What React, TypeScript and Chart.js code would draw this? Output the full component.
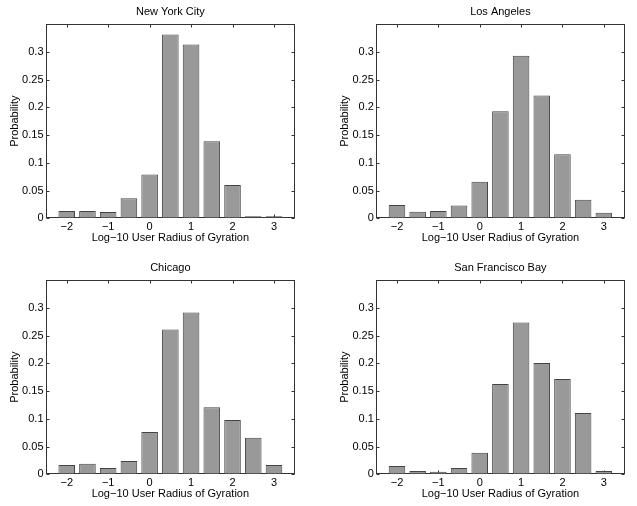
import React, { useEffect, useRef } from 'react';
import { Chart, registerables } from 'chart.js';

Chart.register(...registerables);

// ---- data ----
const binCenters = [-2, -1.5, -1, -0.5, 0, 0.5, 1, 1.5, 2, 2.5, 3];
const xTickValues = [-2, -1, 0, 1, 2, 3];
const yTickValues = [0, 0.05, 0.1, 0.15, 0.2, 0.25, 0.3];
const nycValues = [0.013, 0.013, 0.0114, 0.036, 0.079, 0.331, 0.313, 0.139, 0.06, 0.003, 0.003];
const laValues = [0.024, 0.012, 0.013, 0.023, 0.066, 0.193, 0.293, 0.221, 0.1156, 0.0335, 0.01];
const chicagoValues = [0.0168, 0.019, 0.0114, 0.024, 0.076, 0.261, 0.2916, 0.121, 0.098, 0.066, 0.0168];
const sfValues = [0.015, 0.006, 0.0048, 0.0114, 0.039, 0.1626, 0.2736, 0.2004, 0.1716, 0.1104, 0.006];
const panelTitles = ['New York City', 'Los Angeles', 'Chicago', 'San Francisco Bay'];
const xLabel = 'Log\u221210 User Radius of Gyration';
const yLabel = 'Probability';
const xMin = -2.5;
const xMax = 3.5;
const yMin = 0;
const yMax = 0.35;

const FAMILY = '"Liberation Sans", Arial, Helvetica, sans-serif';
const font = { family: FAMILY, size: 11, weight: 'normal' as const };

const fmtX = (v: number) => (v < 0 ? '\u2212' + Math.abs(v) : String(v));
const fmtY = (v: number) => String(Math.round(v * 100) / 100);

const boxPlugin = {
  id: 'matlabBox',
  beforeDatasetsDraw(chart: any) {
    const { ctx, chartArea, scales } = chart;
    const L = Math.round(chartArea.left) + 0.5;
    const R = Math.round(chartArea.right) - 0.5;
    const T = Math.round(chartArea.top) + 0.5;
    const B = Math.round(chartArea.bottom) - 0.5;
    ctx.save();
    ctx.strokeStyle = '#333333';
    ctx.lineWidth = 1;
    ctx.strokeRect(L, T, R - L, B - T);
    ctx.beginPath();
    const tl = 3;
    xTickValues.forEach((v) => {
      const px = Math.round(scales.x.getPixelForValue(v)) + 0.5;
      ctx.moveTo(px, B);
      ctx.lineTo(px, B - tl);
      ctx.moveTo(px, T);
      ctx.lineTo(px, T + tl);
    });
    yTickValues.forEach((v) => {
      const py = Math.round(scales.y.getPixelForValue(v)) + 0.5;
      ctx.moveTo(L, py);
      ctx.lineTo(L + tl, py);
      ctx.moveTo(R, py);
      ctx.lineTo(R - tl, py);
    });
    ctx.stroke();
    ctx.restore();
  },
};

type PanelProps = {
  title: string;
  values: number[];
  left: number;
  top: number;
  width: number;
  height: number;
  padLeft: number;
  padRight: number;
};

function Panel({ title, values, left, top, width, height, padLeft, padRight }: PanelProps) {
  const ref = useRef<HTMLCanvasElement | null>(null);
  useEffect(() => {
    if (!ref.current) return;
    const chart = new Chart(ref.current, {
      type: 'bar',
      data: {
        datasets: [
          {
            data: binCenters.map((x, i) => ({ x, y: values[i] })),
            backgroundColor: '#999999',
            borderColor: '#444444',
            borderWidth: 1,
            borderSkipped: false,
            barPercentage: 0.8,
            categoryPercentage: 1,
            minBarLength: 2,
          } as any,
        ],
      },
      options: {
        responsive: false,
        animation: false,
        devicePixelRatio: 1,
        layout: { padding: { left: padLeft, right: padRight, top: 0, bottom: 0 } },
        plugins: {
          legend: { display: false },
          tooltip: { enabled: false },
          title: {
            display: true,
            text: title,
            fullSize: false,
            color: '#000000',
            font,
            padding: { top: 5.4, bottom: 5.4 },
          },
        },
        scales: {
          x: {
            type: 'linear',
            min: xMin,
            max: xMax,
            offset: false,
            grid: { display: false, drawTicks: false },
            border: { display: false },
            afterBuildTicks: (s: any) => {
              s.ticks = xTickValues.map((v) => ({ value: v }));
            },
            ticks: {
              padding: 2,
              color: '#000000',
              font,
              maxRotation: 0,
              autoSkip: false,
              callback: (v: any) => fmtX(Number(v)),
            },
            title: {
              display: true,
              text: xLabel,
              color: '#000000',
              font,
              padding: { top: 0, bottom: 5.4 },
            },
            afterFit: (s: any) => {
              s.height = 31.7;
            },
          },
          y: {
            type: 'linear',
            min: yMin,
            max: yMax,
            grid: { display: false, drawTicks: false },
            border: { display: false },
            afterBuildTicks: (s: any) => {
              s.ticks = yTickValues.map((v) => ({ value: v }));
            },
            ticks: {
              padding: 2.5,
              color: '#000000',
              font,
              autoSkip: false,
              callback: (v: any) => fmtY(Number(v)),
            },
            title: {
              display: true,
              text: yLabel,
              color: '#000000',
              font,
              padding: { top: 7.9, bottom: 0 },
            },
            afterFit: (s: any) => {
              s.width = 46;
            },
          },
        },
      } as any,
      plugins: [boxPlugin],
    });
    return () => chart.destroy();
  }, [title, values, padLeft, padRight]);
  return (
    <canvas
      ref={ref}
      width={width}
      height={height}
      style={{ position: 'absolute', left, top, width, height, display: 'block' }}
    />
  );
}

export default function App() {
  return (
    <div
      style={{
        position: 'fixed',
        left: 0,
        top: 0,
        width: 637,
        height: 506,
        background: '#ffffff',
        overflow: 'hidden',
      }}
    >
      <Panel title={panelTitles[0]} values={nycValues} left={0} top={0} width={318} height={250} padLeft={0} padRight={23.3} />
      <Panel title={panelTitles[1]} values={laValues} left={318} top={0} width={319} height={250} padLeft={12.3} padRight={12.5} />
      <Panel title={panelTitles[2]} values={chicagoValues} left={0} top={256} width={318} height={250} padLeft={0} padRight={23.3} />
      <Panel title={panelTitles[3]} values={sfValues} left={318} top={256} width={319} height={250} padLeft={12.3} padRight={12.5} />
    </div>
  );
}
